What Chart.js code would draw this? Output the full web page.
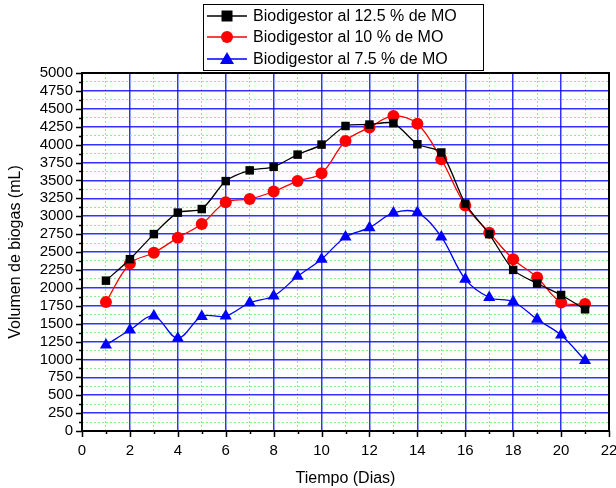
<!DOCTYPE html>
<html>
<head>
<meta charset="utf-8">
<script src="https://cdn.jsdelivr.net/npm/chart.js@4"></script>
<style>
  html, body { margin: 0; padding: 0; background: #fff; }
  #wrap { width: 616px; height: 488px; }
</style>
</head>
<body>
<div id="wrap"><canvas id="c" width="616" height="488"></canvas></div>
<script>
  // dias y volumen de biogas (mL)
  const dias = [1, 2, 3, 4, 5, 6, 7, 8, 9, 10, 11, 12, 13, 14, 15, 16, 17, 18, 19, 20, 21];
  const mo125 = [2100, 2400, 2750, 3050, 3100, 3490, 3640, 3690, 3860, 4000, 4260, 4280, 4300, 4005, 3890, 3175, 2750, 2250, 2060, 1900, 1700];
  const mo10 = [1800, 2340, 2490, 2700, 2890, 3195, 3240, 3345, 3490, 3600, 4050, 4240, 4400, 4290, 3795, 3150, 2770, 2400, 2145, 1795, 1775];
  const mo75 = [1200, 1410, 1605, 1295, 1600, 1605, 1790, 1885, 2160, 2400, 2710, 2840, 3045, 3050, 2710, 2120, 1865, 1805, 1560, 1340, 985];
  const labels = ['Biodigestor al 12.5 % de MO', 'Biodigestor al 10 % de MO', 'Biodigestor al 7.5 % de MO'];

  const pts = arr => arr.map((v, i) => ({ x: dias[i], y: v }));
  const FONT = 'Liberation Sans, Arial, sans-serif';

  function marker(ctx, style, x, y, color) {
    ctx.fillStyle = color;
    ctx.beginPath();
    if (style === 'rect') {
      ctx.rect(x - 5.5, y - 5.5, 11, 11);
    } else if (style === 'circle') {
      ctx.arc(x, y, 6, 0, Math.PI * 2);
    } else {
      ctx.moveTo(x, y - 7);
      ctx.lineTo(x + 7, y + 5);
      ctx.lineTo(x - 7, y + 5);
      ctx.closePath();
    }
    ctx.fill();
  }

  // marco, ticks y leyenda con recuadro
  const frame = {
    id: 'frame',
    afterDraw(chart) {
      const { ctx, chartArea: a, scales: { x, y } } = chart;
      ctx.save();
      ctx.strokeStyle = '#000';
      ctx.lineWidth = 1.5;
      ctx.beginPath();
      y.ticks.forEach(t => {
        const py = Math.round(y.getPixelForValue(t.value)) + 0.5;
        const len = t.value % 250 === 0 ? 6 : 3;
        ctx.moveTo(a.left, py); ctx.lineTo(a.left - len, py);
      });
      x.ticks.forEach(t => {
        const px = Math.round(x.getPixelForValue(t.value)) + 0.5;
        const len = t.value % 2 === 0 ? 6 : 3;
        ctx.moveTo(px, a.bottom); ctx.lineTo(px, a.bottom + len);
      });
      ctx.stroke();
      ctx.lineWidth = 2;
      ctx.strokeRect(a.left, a.top, a.right - a.left, a.bottom - a.top);

      // leyenda
      ctx.lineWidth = 1;
      ctx.fillStyle = '#fff';
      ctx.fillRect(203.5, 4.5, 280, 66);
      ctx.strokeRect(203.5, 4.5, 280, 66);
      const rows = [16, 37, 59];
      chart.data.datasets.forEach((ds, i) => {
        const ry = rows[i];
        ctx.strokeStyle = ds.borderColor;
        ctx.lineWidth = 1.3;
        ctx.beginPath(); ctx.moveTo(207, ry); ctx.lineTo(247, ry); ctx.stroke();
        marker(ctx, ds.pointStyle, 227, ry, ds.backgroundColor);
        ctx.fillStyle = '#000';
        ctx.font = '16px ' + FONT;
        ctx.textBaseline = 'middle';
        ctx.fillText(ds.label, 253, ry + 1);
      });
      ctx.restore();
    }
  };

  new Chart(document.getElementById('c'), {
    type: 'line',
    data: {
      datasets: [
        { label: labels[0], data: pts(mo125), borderColor: '#000000', backgroundColor: '#000000', pointStyle: 'rect', pointRadius: 6, tension: 0.25 },
        { label: labels[1], data: pts(mo10), borderColor: '#ff0000', backgroundColor: '#ff0000', pointStyle: 'circle', pointRadius: 6, tension: 0.35 },
        { label: labels[2], data: pts(mo75), borderColor: '#0000ff', backgroundColor: '#0000ff', pointStyle: 'triangle', pointRadius: 7, tension: 0.35 }
      ]
    },
    options: {
      responsive: false,
      animation: false,
      elements: { line: { borderWidth: 1.3 }, point: { borderWidth: 0, hoverRadius: 6 } },
      layout: { padding: { top: 73, right: 6, left: 0, bottom: 0 } },
      plugins: { legend: { display: false }, tooltip: { enabled: false } },
      scales: {
        x: {
          type: 'linear', min: 0, max: 22,
          afterFit: s => { s.height = 57; s.paddingRight = 0; s.paddingLeft = 0; },
          ticks: {
            stepSize: 1, padding: 11, color: '#000', font: { size: 15, family: FONT },
            maxRotation: 0, autoSkip: false,
            callback: v => (v % 2 === 0 ? v : '')
          },
          grid: {
            drawTicks: false,
            color: c => (c.tick && c.tick.value % 2 === 0 ? 'rgba(0,0,255,0.8)' : '#8cf08c'),
            lineWidth: c => (c.tick && c.tick.value % 2 === 0 ? 1.5 : 1)
          },
          border: { display: false, dash: c => (c.tick && c.tick.value % 2 !== 0 ? [2, 2] : []) },
          title: { display: true, text: 'Tiempo (Dias)', color: '#000', font: { size: 16, family: FONT }, padding: { top: 0, bottom: 0 } }
        },
        y: {
          min: 0, max: 5000,
          afterFit: s => { s.width = 82; },
          ticks: {
            stepSize: 125, padding: 9, color: '#000', font: { size: 15, family: FONT },
            autoSkip: false,
            callback: v => (v % 250 === 0 ? v : '')
          },
          grid: {
            drawTicks: false,
            color: c => (c.tick && c.tick.value % 250 === 0 ? 'rgba(0,0,255,0.8)' : '#8cf08c'),
            lineWidth: c => (c.tick && c.tick.value % 250 === 0 ? 1.5 : 1)
          },
          border: { display: false, dash: c => (c.tick && c.tick.value % 250 !== 0 ? [2, 2] : []) },
          title: { display: true, text: 'Volumen de biogas (mL)', color: '#000', font: { size: 16, family: FONT }, padding: { top: 6, bottom: 0 } }
        }
      }
    },
    plugins: [frame]
  });
</script>
</body>
</html>
